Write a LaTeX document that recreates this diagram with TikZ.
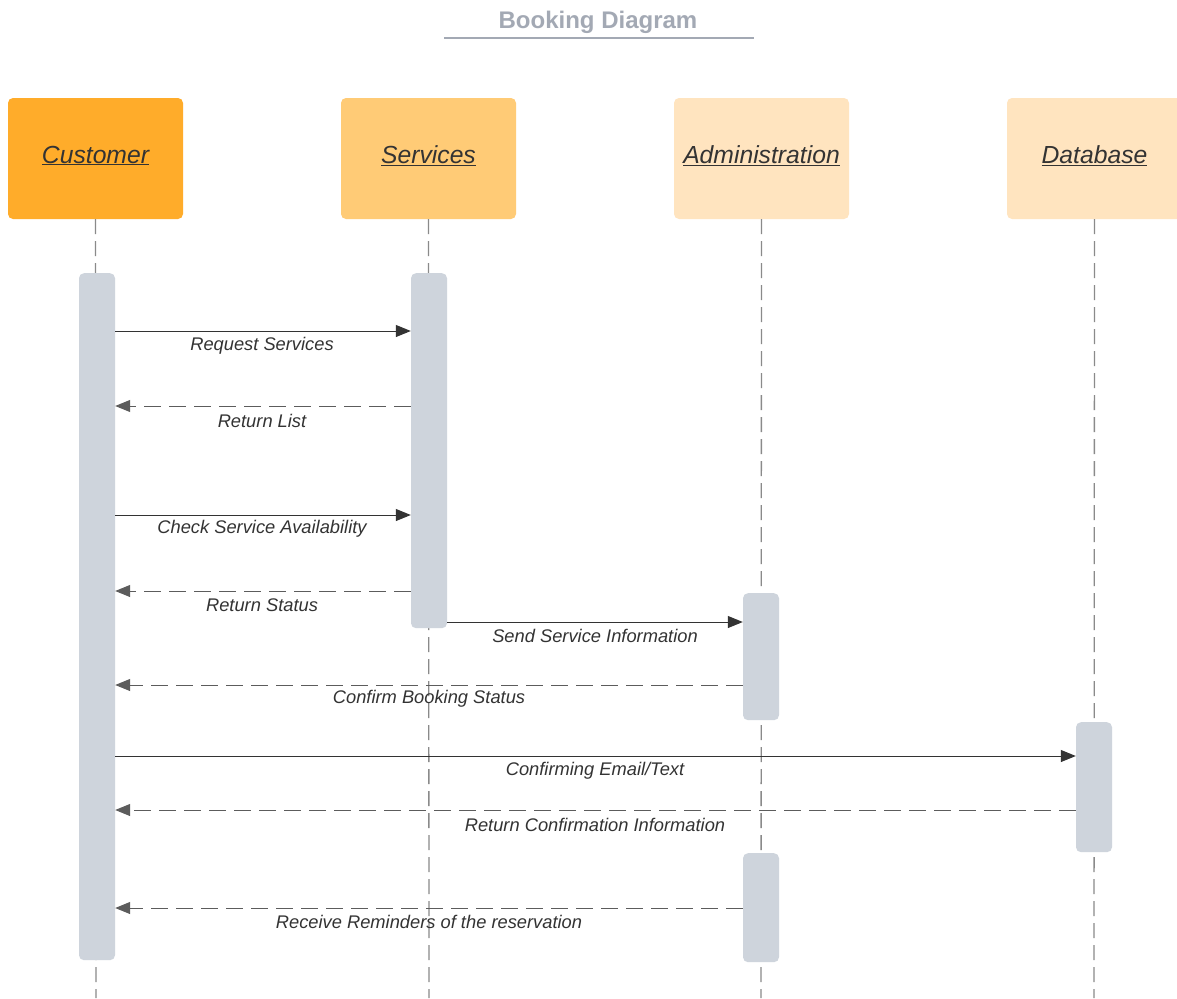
\documentclass[tikz,border=0pt]{standalone}
\usepackage{fontspec}
\setmainfont{Liberation Sans}
\usetikzlibrary{arrows.meta}
\definecolor{titlegray}{HTML}{A3A9B4}
\definecolor{inkdark}{HTML}{333333}
\definecolor{linegray}{HTML}{8A8A8A}
\definecolor{bargray}{HTML}{CED4DC}
\definecolor{orangeA}{HTML}{FFAC2A}
\definecolor{orangeB}{HTML}{FFCB76}
\definecolor{orangeC}{HTML}{FFE4BF}
\tikzset{
  actor/.style={rounded corners=5pt, minimum width=175pt, minimum height=121pt, inner sep=0pt},
  actorname/.style={font=\fontsize{24.7}{28}\selectfont\itshape, text=inkdark, inner sep=0pt, yshift=3pt},
  lifeline/.style={draw=linegray, line width=1.3pt, dash pattern=on 15pt off 7pt},
  bar/.style={fill=bargray, rounded corners=5pt, minimum width=36pt, inner sep=0pt, anchor=north},
  tip/.style={-{Triangle[length=15pt,width=12pt]}},
  call/.style={draw=inkdark, line width=1pt, tip},
  reply/.style={draw=inkdark!80, line width=1pt, dash pattern=on 17pt off 8pt, tip},
  msglabel/.style={font=\fontsize{18.3}{21}\selectfont\itshape, text=inkdark, inner sep=0pt, yshift=-2pt}
}
\begin{document}
\begin{tikzpicture}[x=1pt,y=-1pt]
\useasboundingbox[fill=white] (0,0) rectangle (1177,998);

% title
\node[font=\fontsize{24}{28}\selectfont\bfseries, text=titlegray] (title) at (598,22.5) {Booking Diagram};
\draw[titlegray, line width=1.5pt] (444,38) -- (754,38);

% participants
\node[actor, fill=orangeA] (cust) at (95.5,158.5) {};
\node[actor, fill=orangeB] (serv) at (428.5,158.5) {};
\node[actor, fill=orangeC] (admin) at (761.5,158.5) {};
\node[actor, fill=orangeC] (db) at (1094.5,158.5) {};
\node[actorname] (custName) at (cust.center) {\underline{Customer}};
\node[actorname] (servName) at (serv.center) {\underline{Services}};
\node[actorname] (adminName) at (admin.center) {\underline{Administration}};
\node[actorname] (dbName) at (db.center) {\underline{Database}};

% lifelines
\coordinate (custEnd) at (96,998);
\coordinate (servEnd) at (429,998);
\coordinate (adminEnd) at (761,998);
\coordinate (dbEnd) at (1094,998);
\draw[lifeline] (cust.south) -- (custEnd);
\draw[lifeline] (serv.south) -- (servEnd);
\draw[lifeline] (admin.south) -- (adminEnd);
\draw[lifeline] (db.south) -- (dbEnd);

% activation bars
\node[bar, minimum height=687pt] (custAct) at (97,273) {};
\node[bar, minimum height=355pt] (servAct) at (429,273) {};
\node[bar, minimum height=127pt] (adminAct) at (761,593) {};
\node[bar, minimum height=130pt] (dbAct) at (1094,722) {};
\node[bar, minimum height=109pt] (adminAct2) at (761,853) {};

% messages
\draw[call] (custAct.east |- 0,331) -- (servAct.west |- 0,331);
\node[msglabel] (m1) at (262,344) {Request Services};

\draw[reply] (servAct.west |- 0,406) -- (custAct.east |- 0,406);
\node[msglabel] (m2) at (262,419) {Return List};

\draw[call] (custAct.east |- 0,515) -- (servAct.west |- 0,515);
\node[msglabel] (m3) at (262,527) {Check Service Availability};

\draw[reply] (servAct.west |- 0,591) -- (custAct.east |- 0,591);
\node[msglabel] (m4) at (262,603) {Return Status};

\draw[call] (servAct.east |- 0,622) -- (adminAct.west |- 0,622);
\node[msglabel] (m5) at (595,634) {Send Service Information};

\draw[reply] (adminAct.west |- 0,685) -- (custAct.east |- 0,685);
\node[msglabel] (m6) at (429,697) {Confirm Booking Status};

\draw[call] (custAct.east |- 0,756) -- (dbAct.west |- 0,756);
\node[msglabel] (m7) at (595,769) {Confirming Email/Text};

\draw[reply] (dbAct.west |- 0,810) -- (custAct.east |- 0,810);
\node[msglabel] (m8) at (595,823) {Return Confirmation Information};

\draw[reply] (adminAct2.west |- 0,908) -- (custAct.east |- 0,908);
\node[msglabel] (m9) at (429,920) {Receive Reminders of the reservation};
\end{tikzpicture}
\end{document}
